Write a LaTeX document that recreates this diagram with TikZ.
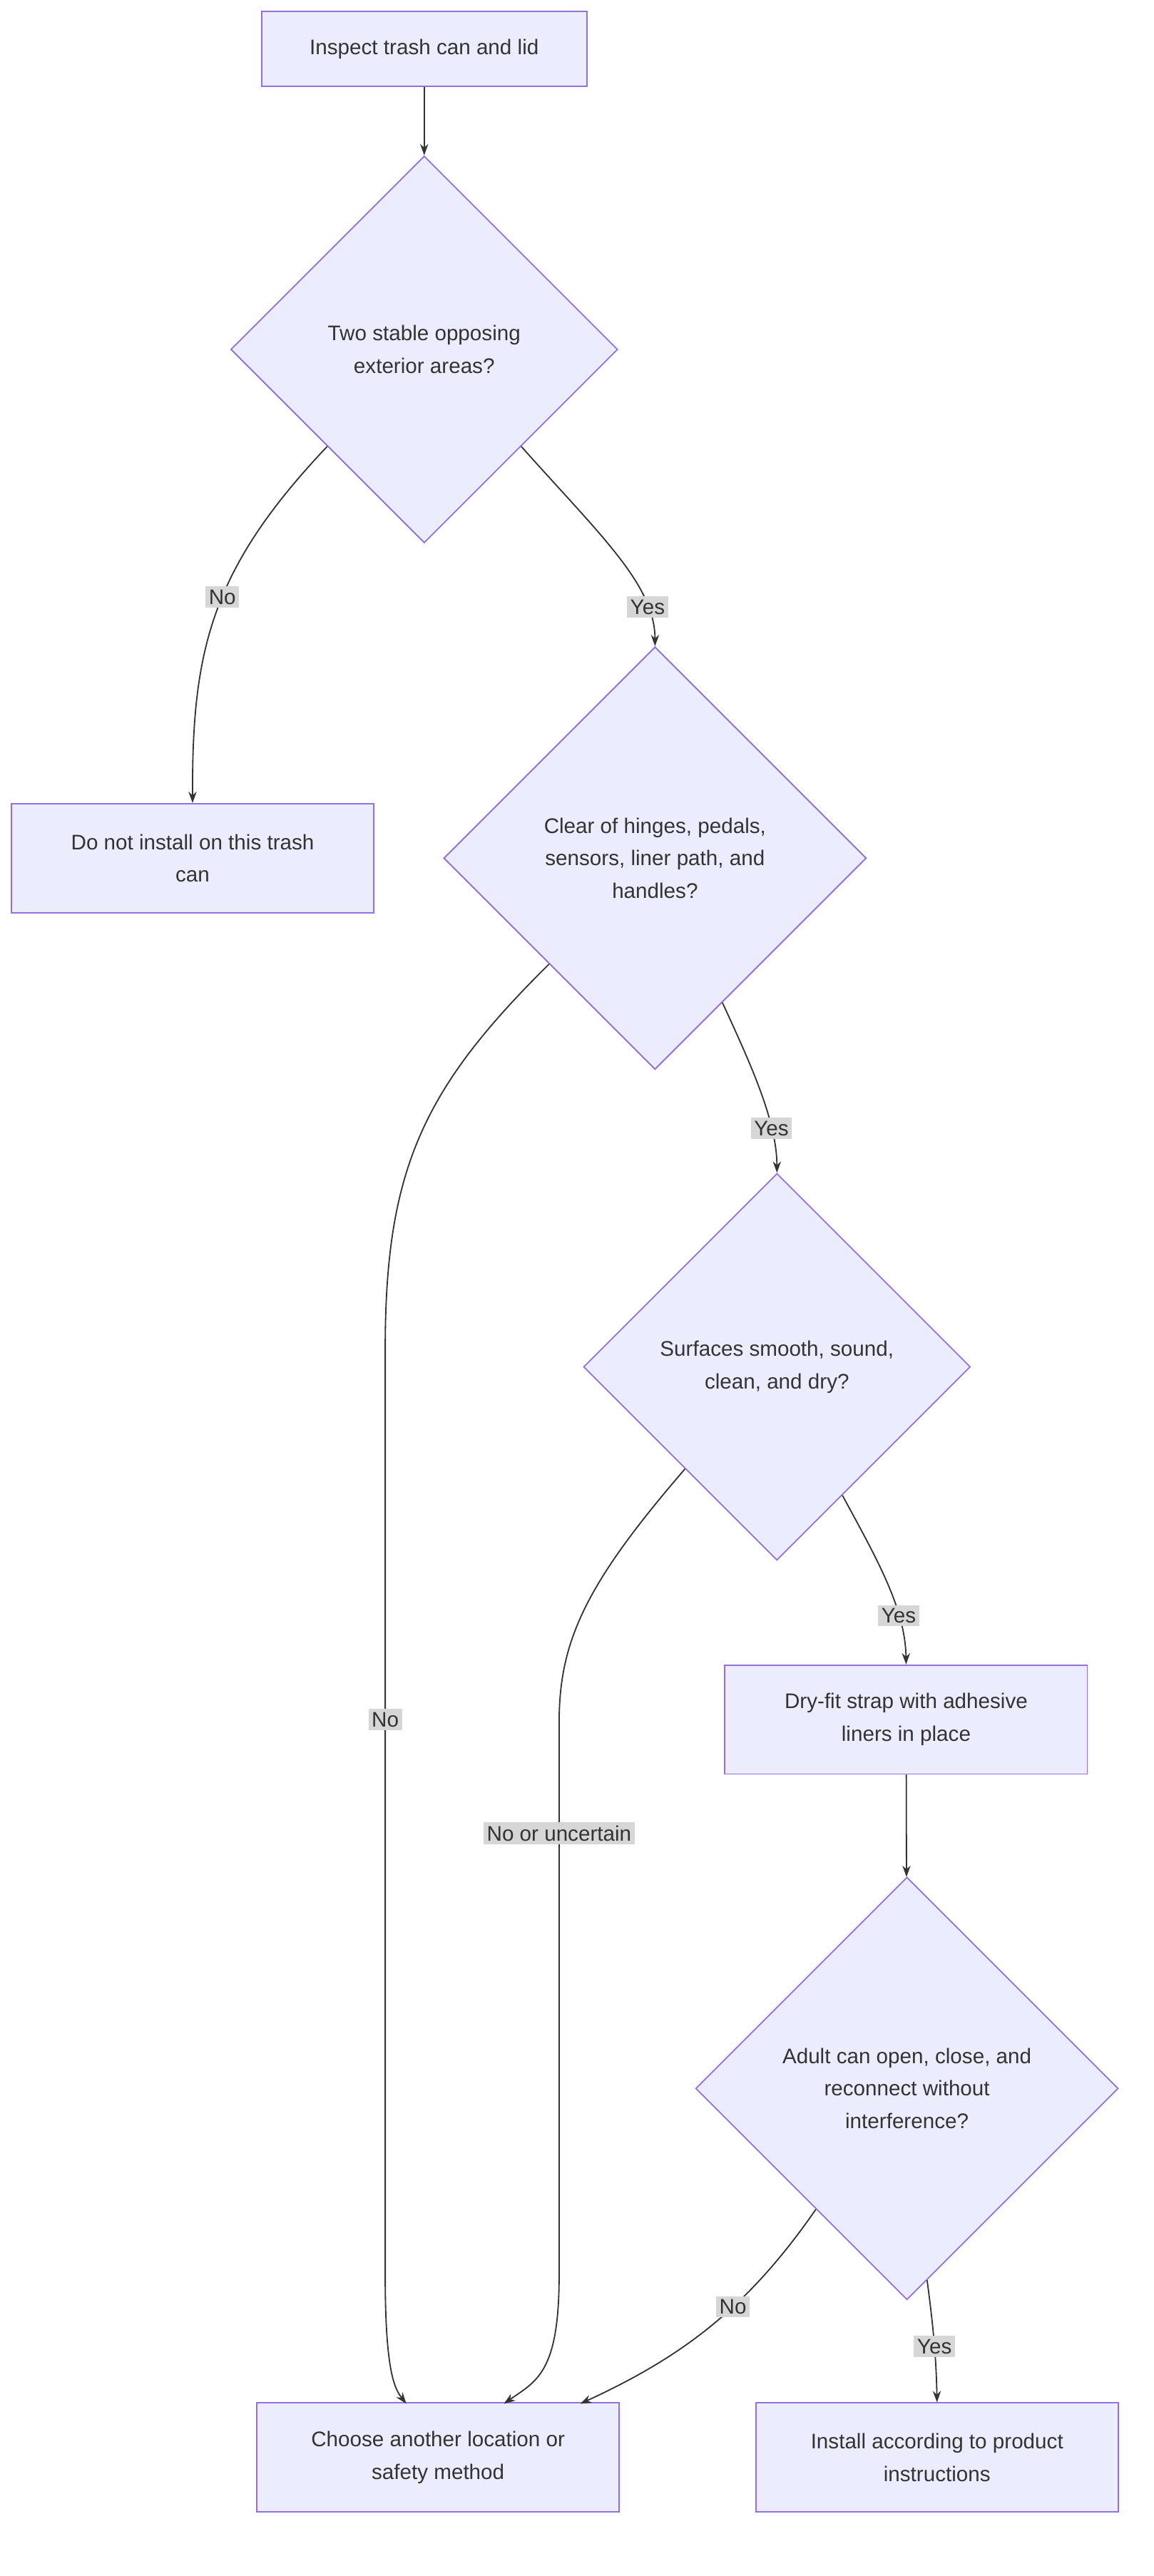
\documentclass[tikz,border=0pt]{standalone}
\usepackage{fontspec}
\setmainfont{Liberation Sans}
\usetikzlibrary{shapes.geometric,arrows.meta}
\definecolor{nfill}{HTML}{ECECFF}
\definecolor{nstroke}{HTML}{9370DB}
\definecolor{txt}{HTML}{333333}
\definecolor{lbl}{HTML}{D6D6D6}
\begin{document}
\begin{tikzpicture}[x=1pt,y=-1pt,
  every node/.style={font=\fontsize{13}{20}\selectfont,text=txt},
  box/.style={draw=nstroke,fill=nfill,line width=0.8pt,align=center,inner sep=0pt},
  dia/.style={diamond,aspect=1,draw=nstroke,fill=nfill,line width=0.8pt,align=center,inner sep=0pt},
  edge/.style={draw=txt,line width=0.8pt,-{Stealth[length=7pt,width=5pt]}},
  lab/.style={fill=lbl,inner sep=2pt}]
\useasboundingbox (0,0) rectangle (710,1585);
\node[box,minimum width=200,minimum height=46] (A) at (261,30) {Inspect trash can and lid};
\node[dia,minimum width=238,minimum height=238] (B) at (261,215) {Two stable opposing\\exterior areas?};
\node[box,minimum width=223,minimum height=67] (C) at (118.5,528) {Do not install on this trash\\can};
\node[dia,minimum width=260,minimum height=260] (D) at (403,528) {Clear of hinges, pedals,\\sensors, liner path, and\\handles?};
\node[dia,minimum width=238,minimum height=238] (E) at (478,841) {Surfaces smooth, sound,\\clean, and dry?};
\node[box,minimum width=223,minimum height=67] (F) at (557.5,1058) {Dry-fit strap with adhesive\\liners in place};
\node[dia,minimum width=260,minimum height=260] (G) at (558,1285) {Adult can open, close, and\\reconnect without\\interference?};
\node[box,minimum width=223,minimum height=67] (H) at (269.5,1512) {Choose another location or\\safety method};
\node[box,minimum width=223,minimum height=67] (I) at (576.5,1512) {Install according to product\\instructions};
\coordinate (H1) at (250,1479);
\coordinate (H2) at (310,1479);
\coordinate (H3) at (357,1479);

\draw[edge] (A) -- (B);
\draw[edge] (B.south west) .. controls (130,350) and (118,400) .. (C.north)
  node[lab,pos=0.45] {No};
\draw[edge] (B.south east) .. controls (370,330) and (403,360) .. (D.north)
  node[lab,pos=0.78] {Yes};
\draw[edge] (D.south west) .. controls (260,670) and (237,720) .. (237,830) -- (237,1400)
  node[lab,pos=0.4] {No} .. controls (237,1460) and (243,1470) .. (H1);
\draw[edge] (D.-65) .. controls (462,655) and (478,690) .. (E.north)
  node[lab,pos=0.72] {Yes};
\draw[edge] (E.-132) .. controls (360,975) and (344,1010) .. (344,1060) -- (344,1400)
  node[lab,pos=0.2] {No or uncertain} .. controls (344,1460) and (330,1465) .. (H2);
\draw[edge] (E.-63) .. controls (540,960) and (557,990) .. (F.north)
  node[lab,pos=0.7] {Yes};
\draw[edge] (F) -- (G);
\draw[edge] (G.-127) .. controls (460,1420) and (420,1450) .. (H3)
  node[lab,pos=0.4] {No};
\draw[edge] (G.-84) .. controls (574,1430) and (576,1450) .. (I.north)
  node[lab,pos=0.55] {Yes};
\end{tikzpicture}
\end{document}
